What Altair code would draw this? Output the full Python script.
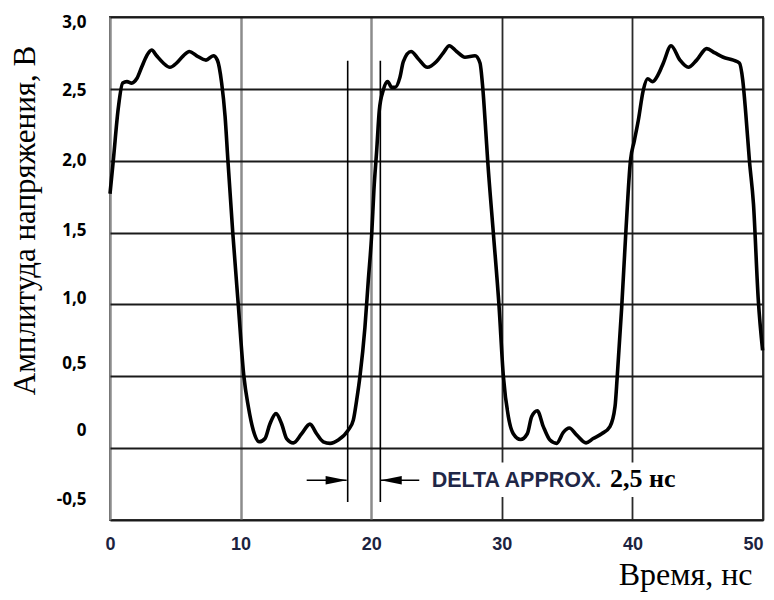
import altair as alt
import pandas as pd

# Waveform (time in ns, amplitude in V)
wave_t = [0.0, 0.25, 0.64, 0.97, 1.3, 1.66, 2.04, 2.42, 2.81, 3.19, 3.57, 4.08, 4.59, 5.1, 5.61,
          6.07, 6.64, 7.35, 7.91, 8.22, 8.55, 8.81, 9.03, 9.4, 9.82, 10.25, 10.59, 10.97, 11.43,
          11.87, 12.25, 12.71, 13.14, 13.52, 14.04, 14.67, 15.31, 15.82, 16.33, 16.85, 17.48,
          18.24, 18.63, 18.88, 19.14, 19.52, 19.78, 20.04, 20.21, 20.42, 20.62, 20.92, 21.26,
          21.57, 21.82, 22.2, 22.46, 23.05, 23.6, 24.3, 25.0, 25.52, 25.98, 26.54, 27.18, 27.95,
          28.33, 28.54, 28.77, 28.92, 29.35, 29.78, 30.12, 30.5, 30.88, 31.44, 31.95, 32.29,
          32.72, 33.18, 33.69, 34.2, 34.71, 35.17, 35.74, 36.45, 37.0, 37.65, 38.28, 38.67,
          38.84, 39.18, 39.49, 39.85, 40.15, 40.45, 40.83, 41.17, 41.55, 41.98, 42.37, 42.96,
          43.64, 44.28, 44.92, 45.69, 46.32, 46.96, 47.73, 48.19, 48.45, 48.68, 48.96, 49.27,
          49.64, 49.97]
wave_v = [1.77, 2.0, 2.37, 2.54, 2.55, 2.54, 2.57, 2.65, 2.73, 2.77, 2.73, 2.68, 2.65, 2.68, 2.73,
          2.76, 2.73, 2.70, 2.73, 2.70, 2.54, 2.31, 2.0, 1.5, 1.0, 0.5, 0.29, 0.125, 0.044,
          0.067, 0.17, 0.24, 0.17, 0.067, 0.037, 0.10, 0.167, 0.10, 0.044, 0.033, 0.056,
          0.125, 0.195, 0.33, 0.50, 0.84, 1.17, 1.49, 1.80, 2.07, 2.35, 2.49, 2.55,
          2.51, 2.51, 2.58, 2.69, 2.76, 2.71, 2.65, 2.69, 2.75, 2.80, 2.76, 2.72, 2.73,
          2.68, 2.51, 2.21, 2.0, 1.5, 1.0, 0.5, 0.22, 0.10, 0.06, 0.10, 0.22,
          0.26, 0.15, 0.056, 0.033, 0.11, 0.14, 0.09, 0.037, 0.067, 0.10, 0.15, 0.29,
          0.50, 0.98, 1.49, 2.0, 2.14, 2.28, 2.49, 2.57, 2.55, 2.60, 2.68, 2.80,
          2.70, 2.65, 2.70, 2.78, 2.75, 2.72, 2.70, 2.68, 2.56, 2.33, 2.0, 1.70,
          1.03, 0.68]

xtick_values = [0, 10, 20, 30, 40, 50]
xtick_labels = ["0", "10", "20", "30", "40", "50"]
ytick_values = [-0.5, 0.0, 0.5, 1.0, 1.5, 2.0, 2.5, 3.0]
ytick_labels = ["-0,5", "0", "0,5", "1,0", "1,5", "2,0", "2,5", "3,0"]

# Delta annotation (ns / V)
marker_t = [18.2, 20.7]
marker_v_low = -0.374
marker_v_high = 2.695
arrow_v = -0.223
arrow_right = [15.06, 18.12]   # shaft start, tip
arrow_left = [23.68, 20.73]    # shaft start, tip
text_bg_t = [24.3, 43.5]
text_bg_v = [-0.10, -0.34]
delta_text = "DELTA APPROX."
delta_text_t = 24.63
delta_value = "2,5 нс"
delta_value_t = 38.28
text_v = -0.272

# style: vertical shift (px) of each y tick label, as placed in the reference
ylabel_shift = [-21, -18, -13, -6, -2, 0, 2, 5]

x_scale = alt.Scale(domain=[0, 50], nice=False, zero=False)
y_scale = alt.Scale(domain=[-0.5, 3.0], nice=False, zero=False)


def expr_map(values, labels):
    e = "''"
    for val, lab in zip(values, labels):
        e = f"abs(datum.value - ({val})) < 1e-6 ? '{lab}' : ({e})"
    return e


x_axis = alt.Axis(
    values=xtick_values, labelExpr=expr_map(xtick_values, xtick_labels),
    grid=True, ticks=False, domain=False,
    gridColor={"condition": {"test": "datum.value <= 20", "value": "#8c8c8c"}, "value": "#2a2a2a"},
    gridWidth={"condition": {"test": "datum.value <= 20", "value": 2.5}, "value": 1.8},
    labelAlign={"condition": {"test": f"datum.value >= {xtick_values[-1]}", "value": "right"},
                "value": "center"},
    labelFont="Liberation Sans", labelFontWeight="bold", labelFontSize=18,
    labelColor="#1c2340", labelPadding=15, labelFlush=False, labelOverlap=False,
    title="Время, нс", titleFont="Liberation Serif", titleFontSize=32,
    titleFontWeight="normal", titleColor="black", titleAlign="right",
    titleBaseline="alphabetic", titleX=642, titleY=64,
)
y_axis = alt.Axis(
    values=ytick_values, labelExpr=expr_map(ytick_values, ytick_labels),
    grid=True, ticks=False, domain=False, gridColor="#1a1a1a", gridWidth=1.8,
    labelFont="Open Sans", labelFontWeight="bold", labelFontSize=17, labelColor="black",
    labelPadding=24, labelFlush=False, labelOverlap=False,
    labelOffset={"condition": [{"test": f"abs(datum.value - ({v})) < 1e-6", "value": s}
                               for v, s in zip(ytick_values, ylabel_shift)],
                 "value": 0},
    title="Амплитуда напряжения, В", titleFont="Liberation Serif", titleFontSize=31,
    titleFontWeight="normal", titleColor="black", titleAngle=270,
    titleAlign="center", titleBaseline="alphabetic", titleX=-76, titleY=203,
)

wave = pd.DataFrame({"t": wave_t, "v": wave_v})
line = alt.Chart(wave).mark_line(color="black", strokeWidth=3.6, interpolate="monotone").encode(
    x=alt.X("t:Q", scale=x_scale, axis=x_axis),
    y=alt.Y("v:Q", scale=y_scale, axis=y_axis),
)

bg = alt.Chart(pd.DataFrame({"t": [text_bg_t[0]], "t2": [text_bg_t[1]],
                             "v": [text_bg_v[0]], "v2": [text_bg_v[1]]})).mark_rect(
    color="white").encode(
    x=alt.X("t:Q", scale=x_scale), x2="t2:Q",
    y=alt.Y("v:Q", scale=y_scale), y2="v2:Q")

markers = alt.Chart(pd.DataFrame({"t": marker_t, "v": [marker_v_low] * 2,
                                  "v2": [marker_v_high] * 2})).mark_rule(
    color="black", strokeWidth=1.6).encode(
    x=alt.X("t:Q", scale=x_scale), y=alt.Y("v:Q", scale=y_scale), y2="v2:Q")

shafts = alt.Chart(pd.DataFrame({"t": [arrow_right[0], arrow_left[0]],
                                 "t2": [arrow_right[1], arrow_left[1]],
                                 "v": [arrow_v, arrow_v]})).mark_rule(
    color="black", strokeWidth=1.6).encode(
    x=alt.X("t:Q", scale=x_scale), x2="t2:Q", y=alt.Y("v:Q", scale=y_scale))

head_r = alt.Chart(pd.DataFrame({"t": [arrow_right[1]], "v": [arrow_v]})).mark_point(
    shape="M0,0L-2,-0.4L-2,0.4Z", size=441, filled=True, color="black", opacity=1).encode(
    x=alt.X("t:Q", scale=x_scale), y=alt.Y("v:Q", scale=y_scale))
head_l = alt.Chart(pd.DataFrame({"t": [arrow_left[1]], "v": [arrow_v]})).mark_point(
    shape="M0,0L2,-0.4L2,0.4Z", size=441, filled=True, color="black", opacity=1).encode(
    x=alt.X("t:Q", scale=x_scale), y=alt.Y("v:Q", scale=y_scale))

txt1 = alt.Chart(pd.DataFrame({"t": [delta_text_t], "v": [text_v], "s": [delta_text]})).mark_text(
    align="left", baseline="alphabetic", font="Liberation Sans", fontSize=21.5,
    fontWeight="bold", color="#1f2747").encode(
    x=alt.X("t:Q", scale=x_scale), y=alt.Y("v:Q", scale=y_scale), text="s:N")
txt2 = alt.Chart(pd.DataFrame({"t": [delta_value_t], "v": [text_v], "s": [delta_value]})).mark_text(
    align="left", baseline="alphabetic", font="Liberation Serif", fontSize=26,
    fontWeight="bold", color="black").encode(
    x=alt.X("t:Q", scale=x_scale), y=alt.Y("v:Q", scale=y_scale), text="s:N")

chart = alt.layer(line, bg, markers, shafts, head_r, head_l, txt1, txt2).properties(
    width=653, height=503, autosize="none",
    padding={"left": 102, "top": 9, "right": 3, "bottom": 72},
    background="white",
).configure_view(stroke="#3a3a3a", strokeWidth=2)

chart.save("out.html", embed_options={"renderer": "svg", "actions": False})
